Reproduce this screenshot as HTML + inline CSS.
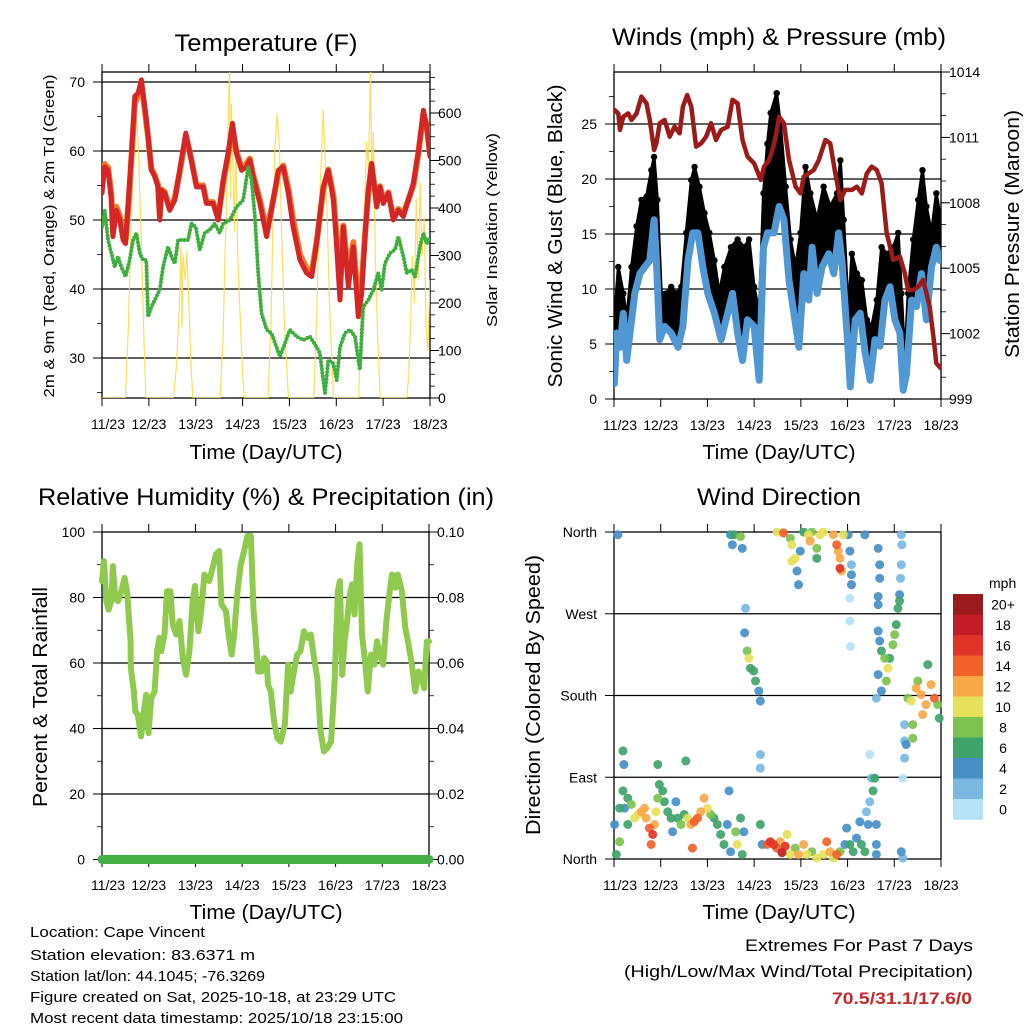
<!DOCTYPE html>
<html><head><meta charset="utf-8"><style>
html,body{margin:0;padding:0;background:#fff}
svg{display:block}
text{font-family:"Liberation Sans",Arial,sans-serif;fill:#000}
</style></head><body>
<svg id="fig" width="1024" height="1024" viewBox="0 0 1024 1024" xmlns="http://www.w3.org/2000/svg">
<rect width="1024" height="1024" fill="#fff"/>
<g id="layer"></g>
<text x="266" y="51" font-size="24" text-anchor="middle" textLength="183" lengthAdjust="spacingAndGlyphs">Temperature (F)</text>
<text x="779" y="45" font-size="24" text-anchor="middle" textLength="334" lengthAdjust="spacingAndGlyphs">Winds (mph) &amp; Pressure (mb)</text>
<text x="266" y="505" font-size="24" text-anchor="middle" textLength="456" lengthAdjust="spacingAndGlyphs">Relative Humidity (%) &amp; Precipitation (in)</text>
<text x="779" y="505" font-size="24" text-anchor="middle" textLength="164" lengthAdjust="spacingAndGlyphs">Wind Direction</text>
<text x="266" y="459" font-size="20" text-anchor="middle" textLength="153" lengthAdjust="spacingAndGlyphs">Time (Day/UTC)</text>
<text x="779" y="459" font-size="20" text-anchor="middle" textLength="153" lengthAdjust="spacingAndGlyphs">Time (Day/UTC)</text>
<text x="266" y="919" font-size="20" text-anchor="middle" textLength="153" lengthAdjust="spacingAndGlyphs">Time (Day/UTC)</text>
<text x="779" y="919" font-size="20" text-anchor="middle" textLength="153" lengthAdjust="spacingAndGlyphs">Time (Day/UTC)</text>
<text transform="translate(54,236) rotate(-90)" font-size="15" text-anchor="middle" textLength="323" lengthAdjust="spacingAndGlyphs">2m &amp; 9m T (Red, Orange) &amp; 2m Td (Green)</text>
<text transform="translate(497,230) rotate(-90)" font-size="15" text-anchor="middle" textLength="194" lengthAdjust="spacingAndGlyphs">Solar Insolation (Yellow)</text>
<text transform="translate(562,236) rotate(-90)" font-size="20" text-anchor="middle" textLength="303" lengthAdjust="spacingAndGlyphs">Sonic Wind &amp; Gust (Blue, Black)</text>
<text transform="translate(1019,234) rotate(-90)" font-size="20" text-anchor="middle" textLength="248" lengthAdjust="spacingAndGlyphs">Station Pressure (Maroon)</text>
<text transform="translate(47,697) rotate(-90)" font-size="20" text-anchor="middle" textLength="220" lengthAdjust="spacingAndGlyphs">Percent &amp; Total Rainfall</text>
<text transform="translate(540,695) rotate(-90)" font-size="20" text-anchor="middle" textLength="280" lengthAdjust="spacingAndGlyphs">Direction (Colored By Speed)</text>
<g font-size="15">
<text x="30" y="937" textLength="175" lengthAdjust="spacingAndGlyphs">Location: Cape Vincent</text>
<text x="30" y="960" textLength="225" lengthAdjust="spacingAndGlyphs">Station elevation: 83.6371 m</text>
<text x="30" y="981" textLength="235" lengthAdjust="spacingAndGlyphs">Station lat/lon: 44.1045; -76.3269</text>
<text x="30" y="1002" textLength="366" lengthAdjust="spacingAndGlyphs">Figure created on Sat, 2025-10-18, at 23:29 UTC</text>
<text x="30" y="1023" textLength="373" lengthAdjust="spacingAndGlyphs">Most recent data timestamp: 2025/10/18 23:15:00</text>
</g>
<g font-size="17" text-anchor="end">
<text x="973" y="951" textLength="228" lengthAdjust="spacingAndGlyphs">Extremes For Past 7 Days</text>
<text x="973" y="977" textLength="349" lengthAdjust="spacingAndGlyphs">(High/Low/Max Wind/Total Precipitation)</text>
<text x="972" y="1004" font-weight="bold" style="fill:#c8282a" textLength="140" lengthAdjust="spacingAndGlyphs">70.5/31.1/17.6/0</text>
</g>
</svg>
<script>
// ---------- Temperature panel data ----------
const tempHours=[0,1.4,3.1,4.8,5.6,7.4,9.1,10.8,12.1,13.8,15.0,16.8,18.5,20.2,21.9,23.6,25.3,27.0,28.7,29.6,30.4,32.1,34.7,37.3,39.8,42.9,45.0,48.4,51.8,53.5,56.9,59.5,62.1,64.6,66.8,68.9,71.5,74.0,75.7,77.4,80.9,84.3,86.8,90.3,92.8,95.4,97.9,101.4,104.8,107.4,109.9,113.3,115.9,118.5,120.2,121.9,123.6,126.2,128.7,131.3,133.0,134.7,136.4,138.1,140.7,142.4,144.1,146.7,149.2,151.8,154.4,156.9,159.5,162.1,164.6,166.3,168];
const temp2m=[53.9,57.7,57.2,52.9,47.6,51.4,50.0,47.1,46.6,53.9,59.2,67.9,68.4,70.3,66.4,62.1,57.2,56.3,54.8,50.0,54.3,53.9,51.4,52.9,57.2,62.6,59.7,54.8,54.8,52.4,52.4,50.0,55.8,59.7,64.0,59.7,57.2,57.7,58.7,56.3,52.4,47.6,51.4,57.2,57.7,53.9,49.0,44.2,42.3,41.8,46.6,54.8,57.2,52.9,46.1,38.4,49.0,40.3,46.1,36.0,39.4,47.6,54.3,58.2,51.9,54.8,52.4,53.9,50.0,51.4,50.5,52.9,55.3,60.1,65.9,63.5,59.2];
const temp9m=[55.2,58.1,57.6,53.6,48.3,51.9,50.6,47.6,47.2,53.2,58.6,66.9,68.0,69.6,66.0,62.0,57.4,56.5,55.1,50.5,54.4,54.1,51.6,53.2,56.9,62.2,59.8,55.0,55.0,52.6,52.6,50.4,55.4,59.3,63.4,59.9,57.5,58.2,58.9,56.6,52.9,48.6,51.6,56.8,57.9,54.6,50.1,45.0,43.0,42.4,46.8,54.4,57.3,53.6,47.4,40.0,49.2,41.8,46.8,37.6,40.8,47.8,53.9,58.0,52.3,54.9,52.8,54.0,50.4,51.6,50.9,52.9,55.0,59.8,65.4,63.7,59.6];
const dewHours=[0,1.4,3.1,4.8,6.5,8.2,9.9,12.1,14.2,15.9,17.6,19.3,21.0,22.7,23.6,25.3,27.9,29.6,31.3,33.8,35.6,37.3,39.0,41.5,44.1,45.8,48.0,50.1,52.6,55.2,57.8,60.3,62.1,65.5,68.9,72.3,74.9,76.6,78.3,80.0,81.7,84.3,86.8,89.4,91.1,93.7,96.2,99.7,103.1,106.5,109.9,111.6,113.3,114.2,115.9,118.5,120.2,121.9,124.4,127.0,129.6,131.3,132.1,133.8,136.4,139.0,141.5,143.2,144.9,147.5,150.1,151.8,154.4,156.1,158.6,160.3,162.9,164.6,166.3,168];
const dewPoint=[49.0,51.4,47.1,45.2,43.2,44.7,43.2,41.8,44.2,47.1,48.1,45.2,44.2,44.2,36.0,37.4,38.9,39.9,43.2,46.1,44.7,43.7,47.1,47.1,47.1,49.5,49.0,45.7,48.1,48.6,49.5,48.1,49.5,50.0,51.9,52.9,57.7,55.8,50.5,42.3,36.5,34.1,33.6,31.6,30.2,32.1,34.1,33.1,32.6,33.1,31.6,30.7,26.8,24.9,29.7,29.2,26.8,31.6,33.6,34.1,33.1,29.7,28.3,37.4,38.4,39.9,42.3,39.9,43.7,45.2,45.7,47.6,44.7,42.3,42.8,41.8,46.1,48.1,46.6,47.6];
const solarHours=[0,12,13.5,15,16.5,17.5,18.5,20,21.5,22.5,36.5,38,39.5,40.5,41,41.5,42.5,43.5,44.5,45.5,46.5,60.5,62,63,64,64.7,65.3,65.8,66.3,67,67.8,68.5,69.5,70.5,72,73,85,86.5,87.5,88.5,89.7,90.8,92,93.5,95.5,108.5,110,111.5,113.3,115,116.5,118.5,131.5,133,134.5,135.5,136.5,137.6,138.2,139,140,141,142.5,156,157,158,159,160,161,162,163,164,165,166,167,168];
const solarValues=[0,0,150,380,560,600,540,350,120,0,0,60,180,320,150,300,250,310,200,80,0,0,120,300,450,600,690,420,620,500,350,550,300,200,50,0,0,150,350,520,600,530,350,150,0,0,180,420,607,430,200,0,0,200,400,540,480,690,450,560,300,150,0,0,40,150,300,200,420,250,454,300,380,150,100,250];
const tempTicks=[70,60,50,40,30];
const solarTicks=[600,500,400,300,200,100,0];
const dayLabels=["11/23","12/23","13/23","14/23","15/23","16/23","17/23","18/23"];

// ---------- Winds panel data ----------
const sonicHours=[0.2,1.4,3.1,4.8,6.5,8.2,10.7,13.3,15.8,18.4,20.6,21.8,23.5,26.0,29.4,32.9,35.4,38.0,40.5,43.1,45.6,48.2,51.6,55.0,58.4,60.9,63.5,66.0,68.6,72.0,74.6,76.8,78.8,82.2,84.8,87.3,89.9,92.4,95.0,97.5,100.1,101.8,104.3,106.9,110.3,112.9,115.4,117.1,119.7,121.4,123.9,126.5,129.0,131.6,134.1,136.7,139.2,141.8,144.3,146.9,148.6,150.3,152.9,155.4,158.0,160.5,163.1,165.6,167.3];
const sonicWind=[1.4,6.0,4.7,7.8,3.5,6.0,9.6,11.4,12.0,12.6,16.3,12.6,5.4,6.6,6.0,4.7,6.6,12.6,15.1,15.1,12.0,9.6,7.8,5.4,7.8,9.6,6.0,3.5,7.2,6.6,1.7,13.8,15.1,15.1,17.5,16.3,10.8,7.8,4.7,11.4,9.0,13.8,9.6,12.0,13.2,11.4,15.1,12.6,6.0,1.1,7.2,7.8,4.2,1.7,5.4,4.8,9.0,10.2,7.2,6.0,0.8,2.3,9.0,8.4,11.4,7.2,12.0,13.8,12.6];
const gustHours=[0.2,2.2,4.8,6.5,9.0,11.6,14.1,16.7,19.2,20.6,22.3,24.3,26.9,29.4,32.0,34.6,37.1,39.7,41.4,43.9,46.5,49.0,51.6,54.1,56.7,60.1,63.5,66.9,69.4,72.0,74.6,76.8,78.8,80.5,83.6,85.6,88.2,90.7,93.3,95.8,98.4,100.9,104.3,107.7,111.1,114.6,116.3,118.0,120.5,122.2,124.8,127.3,129.9,132.4,135.0,137.5,140.1,143.5,146.0,147.7,149.4,151.1,153.7,156.3,158.5,160.5,163.1,165.6,167.3];
const gustWind=[7.2,12.0,9.6,7.2,12.0,15.7,18.1,18.4,20.8,22.0,18.1,9.6,9.6,10.2,9.6,10.2,15.1,19.9,21.1,19.3,16.9,15.1,12.6,9.6,12.0,13.8,14.5,13.8,14.5,10.2,7.8,18.7,23.2,26.0,27.8,24.8,19.3,14.5,12.0,15.1,21.1,18.7,16.3,19.3,17.5,18.7,21.7,16.3,7.8,13.2,11.4,10.8,7.2,6.6,9.0,13.8,13.2,13.8,15.1,9.6,3.5,9.6,14.5,18.1,20.8,17.5,15.1,18.7,16.9];
const presHours=[0.2,2.2,3.1,4.8,7.3,9.0,11.6,14.1,16.7,18.4,20.6,21.8,23.5,26.0,28.6,31.1,33.7,35.4,37.6,39.7,42.2,44.8,47.3,49.9,52.4,55.0,58.4,60.9,63.5,66.0,68.6,72.0,75.4,77.1,79.7,81.4,83.1,84.8,87.3,89.9,93.3,95.8,97.5,100.1,102.6,105.2,108.6,111.1,113.7,116.3,118.8,122.2,124.8,127.3,129.9,132.4,135.0,137.5,140.1,143.5,146.9,149.4,151.1,153.7,156.3,158.8,162.2,164.3,165.6,168];
const pressure=[1012.26,1012.10,1011.34,1011.95,1012.10,1011.80,1012.10,1012.87,1012.56,1011.80,1010.42,1010.73,1011.65,1011.80,1011.03,1011.49,1011.19,1012.41,1012.94,1012.41,1010.58,1010.73,1011.03,1011.65,1010.88,1011.34,1011.49,1012.72,1012.56,1010.88,1010.12,1009.81,1009.05,1009.66,1009.96,1010.42,1011.03,1011.95,1011.65,1009.96,1008.74,1008.43,1009.20,1009.35,1009.50,1009.96,1010.88,1010.73,1009.35,1008.13,1008.59,1008.59,1008.74,1008.43,1009.35,1009.66,1009.50,1008.89,1006.60,1005.38,1005.53,1004.76,1004.00,1004.00,1004.15,1004.46,1003.24,1001.71,1000.64,1000.4];
const windTicks=[25,20,15,10,5,0];
const presTicks=[1014,1011,1008,1005,1002,999];

// ---------- Humidity panel data ----------
const rhHours=[0,1.0,2.2,3.4,4.8,5.6,6.8,8.2,9.9,11.6,13.0,14.7,14.8,16.4,17.1,18.4,20.1,21.5,22.7,23.9,25.3,27.0,28.3,29.5,30.4,32.1,33.4,35.2,36.3,38.1,39.8,41.5,43.2,44.9,46.6,47.8,49.5,50.9,52.6,55.1,56.8,58.5,60.2,61.4,63.7,64.8,66.6,67.9,69.6,71.3,73.0,74.7,76.5,77.8,79.5,80.2,81.9,83.3,84.6,85.3,86.7,88.4,90.1,91.8,93.9,95.6,96.9,98.6,100.3,102.0,103.8,105.5,107.2,108.9,110.6,112.3,114.0,115.7,117.7,119.5,121.2,122.2,123.4,124.6,125.9,127.3,128.5,129.7,131.1,132.3,133.6,135.3,136.5,138.2,139.9,141.3,142.7,144.4,146.1,147.8,149.0,150.7,151.9,154.1,155.8,157.5,159.2,160.9,162.6,164.3,165.5,166.9,168];
const rhValues=[85,91.1,78.9,76.3,78.9,89.6,79.9,78.9,81.9,86.0,80.9,66.6,58.5,51.3,45.2,44.2,37.6,45.2,50.3,38.6,49.3,51.3,63.6,67.7,63.6,68.7,81.9,81.9,71.7,68.7,72.8,61.5,56.4,63.6,78.9,83.5,69.7,75.8,87.0,85.0,89.1,93.2,94.2,77.9,75.8,69.7,62.6,68.7,81.9,90.1,94.2,98.8,98.8,76.8,63.6,57.4,57.4,61.5,60.5,53.4,51.3,42.1,37.0,36.0,41.1,59.5,51.3,57.4,62.6,63.6,69.7,67.7,68.7,61.5,55.4,39.1,33.0,34.0,36.0,54.4,81.9,85.0,56.4,66.6,72.8,80.9,84.0,74.8,90.1,96.2,68.7,59.5,51.3,62.6,59.5,66.6,62.6,59.5,72.8,81.9,87.0,83.0,87.0,81.9,70.7,65.6,59.5,51.3,57.4,55.4,52.3,66.6,66.6];
const precipHours=[0,24,48,72,96,120,144,168];
const precipValues=[0,0,0,0,0,0,0,0];
const rhTicks=[100,80,60,40,20,0];
const precipTicks=["0.10","0.08","0.06","0.04","0.02","0.00"];

// ---------- Wind direction panel data ----------
const dirHours=[2.0,0.3,1.2,2.9,2.9,4.6,5.1,4.6,5.4,7.1,7.1,8.9,10.6,12.3,14.0,15.7,16.5,18.2,19.9,19.1,20.8,21.6,22.5,22.5,23.3,25.0,25.9,27.6,29.3,30.1,31.8,32.7,34.4,36.1,36.9,37.8,39.5,41.2,42.9,40.3,44.6,46.3,48.0,49.7,51.4,53.1,54.8,56.5,58.2,59.1,59.9,62.5,63.3,65.0,65.9,66.7,75.2,76.1,
78.6,80.3,82.0,83.7,85.4,86.3,88.0,88.9,90.6,93.1,94.8,97.4,99.1,101.6,104.2,107.6,109.3,111.0,112.7,114.4,116.1,118.6,119.5,121.2,122.9,124.6,126.3,127.1,128.9,129.7,130.6,131.4,132.3,133.1,134.0,134.8,134.8,134.8,131.4,147.6,148.4,148.4,
59.9,60.8,61.6,65.0,65.9,83.7,87.1,90.6,91.4,91.4,93.1,94.0,94.8,95.7,97.4,99.9,100.8,101.6,104.2,104.2,105.9,107.6,112.7,114.4,115.2,116.1,116.1,116.9,117.8,120.3,121.2,122.0,122.0,122.0,121.2,121.2,121.5,128.9,135.7,136.5,136.5,135.7,135.7,147.6,147.9,147.6,147.2,146.7,
67.6,67.1,68.4,69.3,70.1,71.8,72.7,74.4,75.2,75.2,75.2,
135.7,136.5,137.4,139.1,140.8,141.6,143.3,144.2,145.0,145.9,146.7,135.7,137.4,134.8,139.9,
151.0,152.7,155.2,157.8,160.3,162.9,164.6,166.3,167.1,161.2,156.1,153.5,149.3,149.3,150.1,149.3,153.5,158.6];
const dirDegrees=[357,38,5,19,56,119,104,75,56,67,38,60,45,49,52,56,45,34,27,16,38,52,67,104,82,75,63,52,45,30,63,45,38,49,108,45,38,41,45,12,52,67,56,49,45,38,27,16,38,75,8,30,16,45,5,30,38,16,
16,19,16,12,19,7,14,27,5,12,5,16,5,8,1,5,19,8,1,5,8,16,34,16,8,23,41,16,8,52,38,63,89,75,89,38,16,5,115,8,1,89,
357,346,357,355,342,360,359,353,346,328,331,317,302,339,360,357,350,360,342,331,357,360,357,346,339,331,320,317,357,357,339,324,313,302,287,262,234,357,342,324,309,289,280,357,346,324,309,291,
276,249,229,221,210,207,196,185,174,115,100,
251,240,229,221,210,221,236,247,258,276,284,203,185,177,196,
177,174,188,181,170,192,177,170,155,214,196,148,148,130,126,111,133,159];
const dirSpeeds=[4,4,6,8,6,6,4,6,4,6,6,8,10,10,12,12,12,14,16,14,12,10,8,6,6,6,6,6,6,4,4,6,8,6,6,10,12,14,14,14,12,12,10,8,6,6,6,6,4,4,4,8,10,6,6,4,6,4,
14,16,16,14,12,18,16,10,10,8,12,12,10,8,10,10,14,12,10,14,8,4,4,6,6,4,4,6,6,2,4,2,2,6,6,4,4,4,0,4,2,0,
4,4,6,8,4,10,14,8,10,10,10,4,4,4,6,10,12,8,8,6,10,10,12,14,12,12,16,12,10,4,4,2,4,4,0,0,0,4,4,4,4,4,4,2,2,2,2,4,
2,4,8,10,6,6,6,4,4,2,2,
4,4,6,8,10,6,8,8,6,6,6,4,4,2,8,
8,10,12,12,12,12,14,8,6,6,8,8,2,2,4,2,8,12];
const speedBins=["0","2","4","6","8","10","12","14","16","18","20+"];
const speedColors=["#b5e2f7","#7ab8e2","#468fc7","#3fa36a","#7cc24e","#e6e05a","#f8a847","#f0622a","#e03428","#c21d26","#9b1a1e"];
const dirTicks=["North","East","South","West","North"];
const dirTickValues=[0,90,180,270,360];

// ---------- helpers ----------
const NS="http://www.w3.org/2000/svg";
const layer=document.getElementById('layer');
function mk(tag,attrs,parent){const e=document.createElementNS(NS,tag);for(const k in attrs)e.setAttribute(k,attrs[k]);(parent||layer).appendChild(e);return e;}
function lin(d0,d1,r0,r1){return v=>r0+(v-d0)/(d1-d0)*(r1-r0);}
function pathD(xs,ys,fx,fy){return xs.map((h,i)=>(i?'L':'M')+fx(h).toFixed(1)+','+fy(ys[i]).toFixed(1)).join('');}

const P1={x0:102,x1:430,y0:72,y1:398};
const P2={x0:614,x1:941,y0:72,y1:399};
const P3={x0:102,x1:429,y0:532,y1:859};
const P4={x0:614,x1:941,y0:532,y1:859};

function frame(P,name){
  const g=mk('g',{});
  
  
  mk('rect',{x:P.x0,y:P.y0,width:P.x1-P.x0,height:P.y1-P.y0,fill:'none',stroke:'#000','stroke-width':1.3},g);
  const fx=lin(0,168,P.x0,P.x1);
  dayLabels.forEach((lab,i)=>{
    const x=fx(i*24);
    mk('line',{x1:x,y1:P.y0,x2:x,y2:P.y0-8,stroke:'#000','stroke-width':1},g);
    mk('line',{x1:x,y1:P.y1,x2:x,y2:P.y1+8,stroke:'#000','stroke-width':1},g);
    const t=mk('text',{x:(i===0?x+6:x),y:P.y1+31,'font-size':14,'text-anchor':'middle'},g);
    
    
    t.textContent=lab;
  });
  return fx;
}
function yTicks(P,vals,fy,labels,side,grid,minorStep,lo,hi){
  const g=mk('g',{});
  
  
  vals.forEach((v,i)=>{
    const y=fy(v);
    if(grid && y>P.y0+1 && y<P.y1-1) mk('line',{x1:P.x0,y1:y,x2:P.x1,y2:y,stroke:'#000','stroke-width':1.2},g);
    if(side==='left'){
      mk('line',{x1:P.x0-9,y1:y,x2:P.x0,y2:y,stroke:'#000','stroke-width':1},g);
      const t=mk('text',{x:P.x0-17,y:y+5,'font-size':14,'text-anchor':'end'},g);t.textContent=labels[i];
    } else {
      mk('line',{x1:P.x1,y1:y,x2:P.x1+9,y2:y,stroke:'#000','stroke-width':1},g);
      const t=mk('text',{x:P.x1+8,y:y+5,'font-size':14,'text-anchor':'start'},g);t.textContent=labels[i];
    }
  });
  if(minorStep){
    for(let v=lo;v<=hi+1e-9;v+=minorStep){
      const y=fy(v); if(y<P.y0-0.5||y>P.y1+0.5) continue;
      if(side==='left') mk('line',{x1:P.x0-5,y1:y,x2:P.x0,y2:y,stroke:'#000','stroke-width':0.8},g);
      else mk('line',{x1:P.x1,y1:y,x2:P.x1+5,y2:y,stroke:'#000','stroke-width':0.8},g);
    }
  }
}
function clip(P,id){
  const d=mk('clipPath',{id:id});
  mk('rect',{x:P.x0,y:P.y0,width:P.x1-P.x0,height:P.y1-P.y0},d);
  return 'url(#'+id+')';
}

// ---------- Panel 1: temperature ----------
(function(){
  const fx=frame(P1,'temperature');
  const fy=lin(70,30,82,358);
  const fs=lin(0,600,398,113);
  yTicks(P1,tempTicks,fy,tempTicks.map(String),'left',true,5,25,70);
  yTicks(P1,solarTicks,fs,solarTicks.map(String),'right',false,25,0,675);
  const cp=clip(P1,'c1');
  const g=mk('g',{'clip-path':cp});
  const s=mk('path',{d:pathD(solarHours,solarValues,fx,fs),fill:'none',stroke:'#f9dc4a','stroke-width':1.2,opacity:0.9},g);
  
  
  const o=mk('path',{d:pathD(tempHours,temp9m,fx,fy),fill:'none',stroke:'#f07a2a','stroke-width':6,'stroke-linejoin':'round','stroke-linecap':'round'},g);
  
  
  const r=mk('path',{d:pathD(tempHours,temp2m,fx,fy),fill:'none',stroke:'#d42626','stroke-width':5,'stroke-linejoin':'round','stroke-linecap':'round'},g);
  
  
  const d=mk('path',{d:pathD(dewHours,dewPoint,fx,fy),fill:'none',stroke:'#3fae3f','stroke-width':4,'stroke-dasharray':'0 3.5','stroke-linecap':'round','stroke-linejoin':'round'},g);
  
  
})();

// ---------- Panel 2: winds ----------
(function(){
  const fx=frame(P2,'winds');
  const fy=lin(0,25,399,124);
  const fp=lin(999,1014,399,72);
  yTicks(P2,windTicks,fy,windTicks.map(String),'left',true,2.5,0,27.5);
  yTicks(P2,presTicks,fp,presTicks.map(String),'right',false,1,999,1014);
  const cp=clip(P2,'c2');
  const g=mk('g',{'clip-path':cp});
  const d=pathD(gustHours,gustWind,fx,fy);
  const rev=sonicHours.map((h,i)=>'L'+fx(h).toFixed(1)+','+fy(sonicWind[i]).toFixed(1)).reverse().join('');
  const band=mk('path',{d:d+rev+'Z',fill:'#000',stroke:'#000','stroke-width':3,'stroke-linejoin':'round'},g);
  
  
  gustHours.forEach((h,i)=>{
    const c=mk('circle',{cx:fx(h),cy:fy(gustWind[i]),r:3.2,fill:'#000'},g);
    
    
  });
  const b=mk('path',{d:pathD(sonicHours,sonicWind,fx,fy),fill:'none',stroke:'#4f98d3','stroke-width':7,'stroke-linejoin':'round','stroke-linecap':'round'},g);
  
  
  const p=mk('path',{d:pathD(presHours,pressure,fx,fp),fill:'none',stroke:'#9b1b1b','stroke-width':4.5,'stroke-linejoin':'round','stroke-linecap':'round'},g);
  
  
})();

// ---------- Panel 3: humidity ----------
(function(){
  const fx=frame(P3,'humidity');
  const fy=lin(0,100,859.5,532);
  const fr=lin(0,0.1,859.5,532);
  yTicks(P3,rhTicks,fy,rhTicks.map(String),'left',true,10,0,100);
  yTicks(P3,precipTicks.map(Number),fr,precipTicks,'right',false,0.01,0,0.1);
  const g=mk('g',{});
  const rh=mk('path',{d:pathD(rhHours,rhValues,fx,fy),fill:'none',stroke:'#8fc94d','stroke-width':6,'stroke-linejoin':'round','stroke-linecap':'round'},g);
  
  
  const pr=mk('path',{d:pathD(precipHours,precipValues,fx,fr),fill:'none',stroke:'#44ad44','stroke-width':9,'stroke-linecap':'round'},g);
  
  
})();

// ---------- Panel 4: wind direction ----------
(function(){
  const fx=frame(P4,'wind-direction');
  const fy=lin(0,360,859,532);
  yTicks(P4,dirTickValues,fy,dirTicks,'left',true,0,0,0);
  const cp=clip({x0:P4.x0-4,x1:P4.x1+4,y0:P4.y0-4,y1:P4.y1+4},'c4');
  const g=mk('g',{'clip-path':cp});
  const order=dirHours.map((h,i)=>i).sort((a,b)=>dirSpeeds[a]-dirSpeeds[b]);
  order.forEach(i=>{
    const bin=Math.min(10,Math.floor(dirSpeeds[i]/2));
    const c=mk('circle',{cx:fx(dirHours[i]),cy:fy(Math.min(360,dirDegrees[i])),r:4.5,fill:speedColors[bin],opacity:0.92},g);
    
    
  });
  const cb=mk('g',{});
  
  
  const t=mk('text',{x:989,y:588,'font-size':14},cb);t.textContent='mph';
  const top=594,h=20.5;
  for(let k=10;k>=0;k--){
    const y=top+(10-k)*h;
    const r=mk('rect',{x:953,y:y,width:30,height:h+0.3,fill:speedColors[k]},cb);
    
    
    const l=mk('text',{x:1003,y:y+h/2+5,'font-size':14,'text-anchor':'middle'},cb);
    l.textContent=speedBins[k];
  }
})();
</script>
</body></html>
